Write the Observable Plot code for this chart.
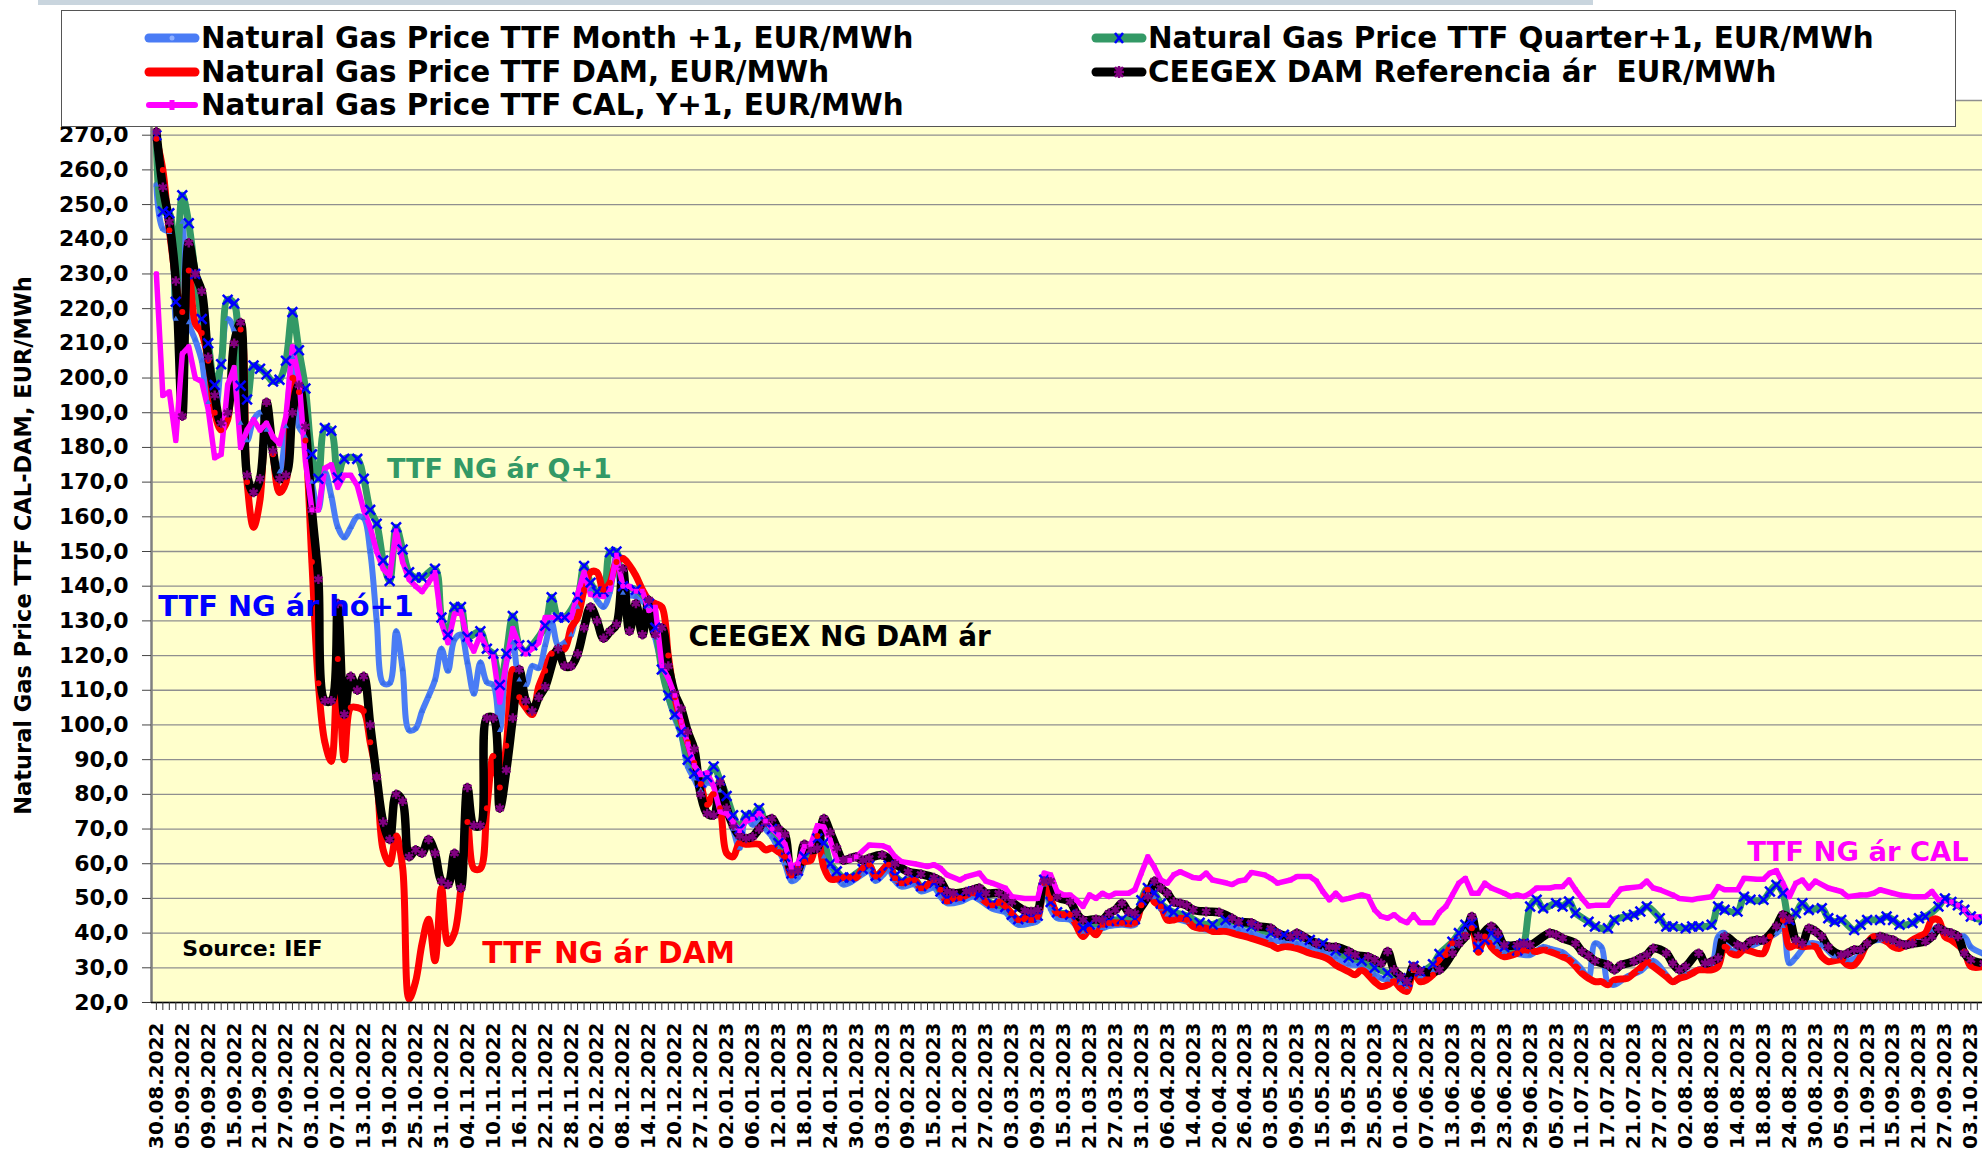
<!DOCTYPE html>
<html><head><meta charset="utf-8">
<script src="https://cdn.jsdelivr.net/npm/d3@7"></script>
<script src="https://cdn.jsdelivr.net/npm/@observablehq/plot@0.6"></script>
<style>
html,body{margin:0;padding:0;background:#fff;overflow:hidden;}
#wrap{position:relative;width:1982px;height:1153px;overflow:hidden;font-family:"DejaVu Sans",sans-serif;}
#chart svg{display:block;}
#chart svg text{font-weight:bold;}
.strip{position:absolute;left:38px;top:0;width:1555px;height:5px;background:#c9d5de;}
#legend{position:absolute;left:61px;top:10px;width:1895px;height:117px;background:#fff;border:1.5px solid #555;box-sizing:border-box;}
.item{position:absolute;display:flex;align-items:center;height:34px;font-weight:bold;font-size:29.4px;color:#000;white-space:nowrap;}
.item svg{margin-right:1px;}
</style></head><body>
<div id="wrap"><div id="chart"></div><div class="strip"></div><div id="legend"></div></div>
<script>
// category labels (every 4th trading day)
const labels = ["30.08.2022","05.09.2022","09.09.2022","15.09.2022","21.09.2022","27.09.2022","03.10.2022","07.10.2022","13.10.2022","19.10.2022","25.10.2022","31.10.2022","04.11.2022","10.11.2022","16.11.2022","22.11.2022","28.11.2022","02.12.2022","08.12.2022","14.12.2022","20.12.2022","27.12.2022","02.01.2023","06.01.2023","12.01.2023","18.01.2023","24.01.2023","30.01.2023","03.02.2023","09.02.2023","15.02.2023","21.02.2023","27.02.2023","03.03.2023","09.03.2023","15.03.2023","21.03.2023","27.03.2023","31.03.2023","06.04.2023","14.04.2023","20.04.2023","26.04.2023","03.05.2023","09.05.2023","15.05.2023","19.05.2023","25.05.2023","01.06.2023","07.06.2023","13.06.2023","19.06.2023","23.06.2023","29.06.2023","05.07.2023","11.07.2023","17.07.2023","21.07.2023","27.07.2023","02.08.2023","08.08.2023","14.08.2023","18.08.2023","24.08.2023","30.08.2023","05.09.2023","11.09.2023","15.09.2023","21.09.2023","27.09.2023","03.10.2023"];

// [trading day index, EUR/MWh]
const monthAhead = [[0,255.7],[1,243],[2,242],[3,217],[4,245],[5,216],[6,211],[7,205],[8,193],[9,190],[10,205],[11,217],[12,214],[13,187],[14,182],[15,188],[16,190],[17,185],[18,178],[19,173],[20,186],[21,206],[22,186],[23,183],[24,170],[25,162],[26,173],[27,166],[28,157],[29,154],[30,157],[31,160],[32,159.6],[33,150],[34,130],[35,112],[36,112],[37,127],[38,116],[39,98.5],[40,99],[41,104],[42,108.3],[43,113],[44,122],[45,115.6],[46,124.6],[47,126],[48,118],[49,109],[50,118],[51,112.3],[52,111.5],[53,98.5],[54,118],[55,123.7],[56,113],[57,111.5],[58,117],[59,116.4],[60,123],[61,129.5],[62,123],[63,123.7],[64,126],[65,134],[66,139],[67,139],[68,136],[69,134],[70,138.4],[71,149],[72,138],[74,137],[76,133.5],[77,125],[78,117],[79,108],[80,102],[81,97],[82,88],[83,84.5],[84,81.2],[85,83.4],[87,81],[88,76],[89,70],[90,64.5],[91,74],[92,71.2],[93,73],[94,70],[95,67.8],[96,64],[97,60],[98,55],[99,56],[100,60.6],[102,67.3],[103,62],[104,59],[105,56],[106,54],[107,54.5],[109,57],[110,58],[111,55],[113,58],[114,55],[115,53.4],[117,54],[118,52],[120,53],[121,50.5],[122,48.6],[124,49],[126,50.5],[127,49.6],[129,47],[131,46],[132,43.8],[133,42.4],[135,42.9],[136,43.5],[137,53.9],[138,47],[139,44.3],[141,43.8],[143,40],[144,41],[146,41.4],[147,42],[149,42.4],[151,42.4],[152,48],[153,51.5],[154,50.1],[155,47],[156,45.3],[157,44.3],[159,43.3],[161,41.4],[163,40.9],[165,42],[167,41],[169,40],[172,38],[174,37.5],[176,37],[178,36],[180,35],[182,33],[184,31],[186,30.5],[188,28],[189,27],[190,26.5],[192,25.5],[193,24],[194,29],[195,27.5],[197,29],[198,33],[200,36],[201,38.5],[202,40.5],[203,42],[204,37],[205,38],[206,38.5],[207,36],[208,34.5],[210,34],[212,33.7],[214,36],[215,35.5],[217,34.5],[218,33],[219,31.5],[220,29.5],[221,27],[222,37],[223,36],[224,25.6],[225,25.1],[227,27.5],[229,29],[231,32],[233,28],[234,26],[236,28],[238,29.5],[240,31],[241,39],[242,40],[243,35],[245,35.5],[247,37],[248,38],[250,40],[251,42],[252,31.3],[253,33],[255,37],[257,36.5],[259,33.2],[261,32],[263,34],[264,37.1],[266,38],[268,37],[270,37],[272,38.5],[274,40.5],[275,42],[277,39],[279,39],[280,36],[282,34]];

const quarterAhead = [[0,270],[1,248],[2,247.5],[3,222],[4,252.7],[5,244.6],[6,230],[7,217],[8,210],[9,198],[10,204],[11,222.6],[12,221.5],[13,197.8],[14,193.8],[15,203.6],[16,202.7],[17,201],[18,199],[19,199.5],[20,205],[21,219],[22,208],[23,197],[24,178],[25,171],[26,185.6],[27,184.8],[28,171.3],[29,176.7],[31,176.7],[32,171],[33,162],[34,158],[35,147.4],[36,141.5],[37,157],[38,150.6],[39,144],[40,142.5],[41,142.5],[43,145],[44,131],[45,126],[46,134],[47,134],[48,125.4],[50,127],[51,122],[52,120.5],[53,111.5],[54,120.5],[55,131.4],[56,123],[57,121.3],[58,123],[60,128.6],[61,136.8],[62,131],[63,131],[65,136.8],[66,145.8],[67,141],[68,138.4],[69,138.4],[70,149.8],[71,150],[72,140],[74,139],[76,135],[77,128],[78,116],[79,108.5],[80,103],[81,98],[82,90],[83,86],[84,83.4],[85,85],[86,88],[87,84],[88,79.5],[89,74],[90,70],[91,74],[92,74],[93,76],[94,72],[95,70],[96,66],[97,62],[98,57.2],[99,58],[100,62],[102,67.3],[103,66],[104,60],[105,57.8],[106,56],[107,56],[109,58.5],[110,59.5],[111,56.5],[113,59.5],[114,56.5],[115,55],[117,55.5],[118,53.5],[120,54.5],[121,52],[122,50],[124,50.5],[126,52],[127,51],[129,48.5],[131,47.5],[132,45.3],[133,44],[135,44.5],[136,45],[137,55.4],[138,49],[139,46],[141,45.3],[143,41.5],[144,42.5],[146,43],[147,43.5],[149,44],[151,44],[152,49.5],[153,53],[154,51.6],[155,48.5],[156,47],[157,46],[159,45],[161,43],[163,42.5],[165,43.8],[167,43],[169,42],[172,40],[174,39.5],[176,39],[178,38],[180,37],[182,35],[184,33],[186,32],[188,30],[190,28.5],[192,27],[193,26],[194,30.5],[195,29],[197,31],[198,34],[200,37.5],[201,40],[202,42.4],[203,43],[204,36],[205,38],[206,40],[207,38],[208,36],[210,35],[211,37],[212,47.7],[213,49.6],[214,47.2],[216,48.6],[217,47.7],[218,49.1],[219,45.8],[221,43.3],[222,41.9],[224,41.4],[225,43.8],[227,44.8],[228,45.3],[229,46.2],[230,47.7],[232,44.3],[233,41.9],[234,41.9],[236,41.4],[237,41.9],[238,41.9],[240,42.4],[241,47.7],[242,46.7],[244,46.2],[245,50.5],[246,49.6],[248,49.6],[249,52],[250,53.9],[251,51.5],[252,43.8],[253,45.7],[254,48.6],[255,46.7],[257,47.2],[258,44.3],[259,43.3],[260,43.8],[262,40.9],[263,42.4],[264,43.8],[266,43.8],[267,44.8],[268,43.8],[269,42.4],[271,42.9],[272,44.3],[273,44.8],[275,47.7],[276,50],[277,49],[278,48],[279,46.7],[280,44.8],[282,43.8]];

const dayAhead = [[0,269],[1,260],[2,242.6],[4,219],[5,231],[6,215.8],[7,213],[8,205],[9,190],[10,185],[11,188],[12,210],[13,214],[14,170],[15,157],[16,165],[17,193],[18,178],[19,167],[20,170],[21,200],[22,196],[23,182],[24,147],[25,112],[26,95],[27,89.5],[28,119],[29,90],[30,105],[31,105],[32,104],[33,95],[34,85],[35,64],[36,60],[37,68],[38,59],[39,21],[40,26],[41,37],[42,44],[43,32],[44,53],[45,37],[46,40],[47,53],[48,72],[49,58.6],[50,58.6],[51,76],[52,91],[53,82],[54,94],[55,116],[56,108],[57,105],[58,103],[59,111],[60,115.6],[61,120.5],[63,122],[64,128],[65,131],[66,139],[67,144],[68,144],[69,139],[70,141],[71,147],[72,148],[73,146],[74,143],[75,139],[76,136],[77,135],[78,134],[79,120],[80,108],[81,101],[82,95],[83,89],[84,83],[85,77],[86,80],[87,76],[88,63],[89,62],[90,66],[91,65.6],[93,65.6],[94,64],[95,64.5],[96,63.4],[97,62],[98,56.7],[99,59.4],[100,60.6],[101,61],[102,68],[103,59],[104,55.6],[105,55.6],[106,56],[107,56],[108,56],[109,58.7],[110,59.7],[111,56.3],[113,59.7],[114,55.8],[115,54.4],[117,55.3],[118,52.9],[119,53.9],[120,55.3],[121,52.5],[122,49.1],[123,50.1],[124,50.1],[126,51.5],[128,49],[129,48],[130,49],[131,47.7],[132,45.7],[133,43.8],[134,44.3],[135,43.8],[136,44.7],[137,54.4],[138,50],[139,45.7],[140,45.3],[141,45.3],[143,39],[144,41],[145,39.5],[146,42.4],[147,42.9],[149,42.9],[151,42.9],[152,48],[153,52.5],[154,49],[155,47.7],[156,43.8],[157,43.8],[158,44.3],[159,43.8],[160,41.9],[161,41.4],[162,41.4],[163,40.5],[165,40.5],[167,39.5],[169,38.5],[172,36.6],[173,35.6],[174,36.1],[176,35.6],[178,34.2],[180,33.2],[181,32.3],[182,30.8],[184,28.9],[185,28],[186,29.4],[188,26],[189,24.6],[190,25.1],[191,26],[192,24.1],[193,23.2],[194,29.4],[195,26],[197,28],[198,32.3],[199,33.7],[200,37.1],[202,39.5],[203,41.4],[204,34.5],[205,39],[206,36],[207,34.2],[208,33.2],[210,34.2],[211,35.2],[213,34.7],[214,35.2],[215,34.7],[217,33.2],[218,32.3],[219,30.4],[220,28.4],[221,27],[222,26],[223,26],[224,25.1],[225,26.5],[227,27],[228,28.4],[229,29.9],[230,31.8],[231,30.4],[233,27.5],[234,26],[235,27],[236,27.5],[237,28.4],[238,29.4],[240,29.4],[241,30.4],[242,36.1],[243,34.2],[244,33.7],[245,35.2],[247,34.2],[248,34.2],[249,39],[250,41.9],[251,43.8],[252,36],[253,36.6],[254,36.1],[256,36.1],[257,33.2],[258,31.8],[260,32.3],[261,30.8],[262,30.8],[263,33.2],[264,37.1],[265,39],[267,37.6],[268,36.1],[269,35.6],[271,38],[272,39],[273,40],[274,43.8],[275,43.8],[276,39],[277,38],[279,34.7],[280,30.4],[282,30.4]];

const ceegex = [[0,271],[1,255],[2,245],[3,228],[4,189],[5,239],[6,230],[7,225],[8,206],[9,195],[10,187],[11,190],[12,210],[13,216],[14,172],[15,167],[16,171],[17,193],[18,179],[19,171],[20,172],[21,190],[22,198],[23,186],[24,162],[25,142],[26,107],[27,107],[28,135],[29,103],[30,114],[31,110],[32,114],[33,100],[34,85],[35,72],[36,67],[37,80],[38,78],[39,62],[40,64],[41,63],[42,67],[43,63],[44,55],[45,54],[46,63],[47,53],[48,82],[49,71],[50,71],[51,102],[52,102],[53,76],[54,87],[55,102],[56,116],[57,107],[58,104],[59,108],[60,111],[62,122],[63,117],[64,117],[65,120.5],[66,128],[67,134],[68,130],[69,125],[70,127],[71,129],[72,145],[73,127],[74,135],[75,126],[76,136],[77,126],[78,128],[79,117],[80,109],[81,104.6],[82,98],[83,93],[84,80],[85,74.5],[86,74],[87,83.4],[88,76],[89,71],[90,68],[91,67.3],[92,67.8],[93,70],[94,72],[95,73],[96,70],[97,68.4],[98,58],[99,58],[100,65.6],[101,64],[102,64.5],[103,73],[104,69],[105,64.5],[106,61],[107,61.5],[108,62],[109,61],[110,61.6],[112,62.5],[114,60],[116,57.7],[118,57],[120,56],[121,55],[122,52],[123,51.5],[125,52],[126,52.5],[127,53],[128,51.5],[130,51.5],[131,50.5],[132,49],[134,46.5],[135,46.2],[136,46.7],[137,55],[138,55],[139,50.5],[141,49],[142,45.7],[143,43.8],[145,44],[146,43.8],[147,45.7],[148,46.7],[149,48.6],[150,46.2],[151,45.7],[153,50.5],[154,55],[155,53],[156,51.5],[157,49],[158,48.6],[159,48],[160,46.7],[162,46.2],[164,46],[166,44.3],[167,43.3],[169,43],[170,42],[172,41.4],[173,40],[175,39],[176,40],[177,39],[179,37],[181,36],[182,36],[184,34.7],[185,33.7],[187,33.2],[188,32.3],[189,31.3],[190,34.7],[191,29.4],[192,27.5],[193,26],[194,30.4],[195,29],[198,29.4],[200,34.2],[201,37],[202,39],[203,44.8],[204,39],[206,42],[207,40],[208,36.6],[210,36.6],[211,37],[212,36.6],[215,40],[216,39.5],[217,38.5],[219,37],[220,34.7],[221,33.5],[222,32],[224,30.8],[225,29.4],[226,30.8],[228,31.8],[229,32.8],[230,33.7],[231,35.6],[233,34.2],[234,31.3],[235,29.4],[236,30.4],[238,34.2],[239,31.3],[240,31.8],[241,32.8],[242,39],[244,36.6],[245,36.1],[246,37.6],[247,38],[248,38],[250,42],[251,45.3],[252,44],[253,38],[254,37],[255,41.4],[256,40.5],[257,39],[258,36],[260,33.7],[261,34.2],[262,35.2],[263,35.2],[264,37],[266,39],[267,38.5],[268,38],[269,37],[270,36.6],[271,37],[273,37.6],[274,39],[275,41.4],[276,40.5],[277,40],[278,39],[279,34.2],[280,32.3],[282,31.3]];

const calYear = [[0,230],[1,195],[2,196],[3,182],[4,207],[5,209],[6,200],[7,199],[8,191],[9,177],[10,178],[11,198],[12,203],[13,180],[14,185],[15,188],[16,185],[17,187],[18,183],[19,181],[20,189],[21,209],[22,200],[23,176],[24,162],[25,162],[26,174],[27,175],[28,168.5],[29,172],[30,172],[31,169],[32,162],[33,157],[34,150],[35,145],[36,143],[37,156],[38,147],[39,142],[40,140],[41,138.4],[42,141],[43,144],[44,129.5],[45,123.7],[46,132],[47,132.7],[48,124.6],[49,121.3],[50,126],[51,122],[52,119.7],[53,106.6],[54,118],[55,127.8],[56,123],[57,120.5],[58,122],[59,123.7],[60,131],[61,131],[64,131],[65,137.6],[66,144],[67,137.6],[69,137],[70,139],[71,149],[72,140],[73,140],[74,138.6],[75,138.6],[76,133],[77,134],[78,117],[79,113.5],[80,108.5],[81,101],[82,94.6],[83,88.4],[84,85.7],[85,86.2],[86,82.3],[87,75],[88,74.5],[89,72],[90,69.5],[91,72.3],[92,72.9],[93,74.5],[94,72.3],[95,70],[96,68.4],[97,65.6],[98,59],[99,60],[100,65],[101,65.6],[102,71],[103,70.6],[104,66.7],[105,61],[107,61],[108,62],[110,65.4],[112,65.2],[113,64.5],[114,62],[115,60.6],[117,60],[119,59.2],[120,59.7],[121,58.7],[122,56.8],[124,55.3],[125,56.3],[127,57.3],[128,55],[129,54.4],[131,53],[132,50.5],[134,50],[136,50],[137,57.3],[138,56.8],[139,52],[140,51],[141,51],[142,49.5],[143,47.7],[144,51],[145,50],[146,51.5],[147,50.5],[148,51.5],[150,51.5],[151,52.5],[152,57.3],[153,62],[154,59],[155,55.3],[156,54.4],[157,56.8],[158,57.7],[160,56],[161,55.8],[162,57.3],[163,55.3],[165,54.5],[166,54],[167,55],[168,55.3],[169,57.5],[171,56.8],[172,55.8],[173,54.4],[175,55.3],[176,56.3],[178,56.3],[179,55],[180,52],[181,49.6],[182,51.5],[183,49.6],[184,50],[186,51],[187,50.5],[188,46.7],[189,44.8],[190,44.3],[191,45.3],[192,43.8],[193,43],[194,45.3],[195,43],[197,43],[198,46],[199,47.7],[200,51],[201,54.4],[202,55.8],[203,51.5],[204,51.5],[205,54.4],[206,53],[208,51.5],[209,50.5],[210,51],[211,50.5],[212,51.5],[213,53],[215,53],[216,53.4],[217,53.4],[218,55.3],[219,52.5],[220,50],[221,47.8],[222,48],[224,48],[225,50.5],[226,52.7],[227,53],[229,53.4],[230,55],[231,53],[232,52.5],[234,51],[235,50],[237,49.6],[238,50],[240,50.5],[241,53.4],[242,52.5],[244,52.5],[245,55.8],[247,55.5],[248,55.5],[249,57.3],[250,58],[251,54.4],[252,50.5],[253,54.4],[254,55.3],[255,53],[256,55],[258,53],[259,52.5],[260,52],[261,50.5],[263,51],[264,51],[265,51.5],[266,52.5],[268,51.5],[269,51],[271,50.5],[272,50.5],[273,50.5],[274,52],[275,49.6],[277,49],[278,48],[279,46.7],[280,44.5],[282,44.8]];

const yTicks = d3.range(20, 271, 10);
const notes = [
  {d: 35.6, v: 173.6, text: "TTF NG ár Q+1", color: "#339966", size: 27},
  {d: 0.3, v: 134.1, text: "TTF NG ár hó+1", color: "#0000ff", size: 28.8},
  {d: 82.1, v: 125.2, text: "CEEGEX NG DAM ár", color: "#000000", size: 27.9},
  {d: 50.3, v: 34, text: "TTF NG ár DAM", color: "#ff0000", size: 29.6},
  {d: 245.5, v: 63.3, text: "TTF NG ár CAL", color: "#ff00ff", size: 27.4},
  {d: 4, v: 35.3, text: "Source: IEF", color: "#000000", size: 22}
];

const rows = a => a.map(([d, v]) => ({d, v}));
const fmt = v => v.toFixed(1).replace(".", ",");

const chart = Plot.plot({
  width: 1982, height: 1153,
  marginLeft: 151, marginRight: 0, marginTop: 100, marginBottom: 151,
  style: {fontFamily: "DejaVu Sans, sans-serif", fontWeight: "bold", background: "transparent"},
  x: {type: "linear", domain: [-0.75, 281.8]},
  y: {domain: [20, 280]},
  marks: [
    Plot.frame({fill: "#ffffcc", stroke: null}),
    Plot.ruleY(d3.range(20, 281, 10), {stroke: "#8f8f8f", strokeWidth: 1.3}),
    Plot.line(rows(monthAhead), {x: "d", y: "v", stroke: "#4a7cf5", strokeWidth: 6, curve: "catmull-rom"}),
    Plot.line(rows(quarterAhead), {x: "d", y: "v", stroke: "#339966", strokeWidth: 7, curve: "catmull-rom"}),
    Plot.line(rows(dayAhead), {x: "d", y: "v", stroke: "#ff0000", strokeWidth: 7, curve: "catmull-rom"}),
    Plot.line(rows(ceegex), {x: "d", y: "v", stroke: "#000000", strokeWidth: 8.5, curve: "catmull-rom"}),
    Plot.line(rows(calYear), {x: "d", y: "v", stroke: "#ff00ff", strokeWidth: 5.5}),
    Plot.dot(rows(monthAhead), {x: "d", y: "v", symbol: "triangle", r: 2.2, fill: "#3a6fe8"}),
    Plot.dot(rows(quarterAhead), {x: "d", y: "v", symbol: "times", r: 4.5, stroke: "#0000ff", strokeWidth: 2.5}),
    Plot.dot(rows(dayAhead), {x: "d", y: "v", r: 3, fill: "#ff0000"}),
    Plot.dot(rows(ceegex), {x: "d", y: "v", symbol: "asterisk", r: 4.5, stroke: "#800080", strokeWidth: 2.5}),
    Plot.dot(rows(calYear), {x: "d", y: "v", symbol: "square", r: 2.6, fill: "#ff00ff"}),
    Plot.ruleX([-0.75], {stroke: "#808080", strokeWidth: 2.5}),
    Plot.ruleY([20], {stroke: "#000000", strokeWidth: 1.5}),
    Plot.axisY({ticks: yTicks, tickFormat: fmt, tickSize: 9, tickPadding: 14, fontSize: 22, fontWeight: "bold", stroke: "#444", label: null}),
    Plot.axisX({ticks: d3.range(0, 283), tickSize: 8, tickFormat: () => "", stroke: "#333", label: null}),
    Plot.axisX({ticks: d3.range(0, 281, 4), tickSize: 0, tickPadding: 20, tickRotate: -90, tickFormat: d => labels[d / 4], fontSize: 20, fontWeight: "bold", label: null}),
    Plot.text(["Natural Gas Price TTF CAL-DAM, EUR/MWh"], {frameAnchor: "left", textAnchor: "middle", rotate: -90, dx: -128, dy: -6, fontSize: 22.5, fontWeight: "bold", fill: "#000"}),
    ...notes.map(n => Plot.text([n], {x: "d", y: "v", text: "text", fill: n.color, fontSize: n.size, fontWeight: "bold", textAnchor: "start", lineAnchor: "middle"}))
  ]
});
document.getElementById("chart").appendChild(chart);

// legend
const legendItems = [
  {name: "Natural Gas Price TTF Month +1, EUR/MWh", color: "#4a7cf5", marker: "dot", mcolor: "#8fb0ff", left: 82, top: 10},
  {name: "Natural Gas Price TTF DAM, EUR/MWh", color: "#ff0000", marker: "none", mcolor: "#ff0000", left: 82, top: 44},
  {name: "Natural Gas Price TTF CAL, Y+1, EUR/MWh", color: "#ff00ff", marker: "square", mcolor: "#ff00ff", left: 82, top: 77},
  {name: "Natural Gas Price TTF Quarter+1, EUR/MWh", color: "#339966", marker: "x", mcolor: "#0000ff", left: 1029, top: 10},
  {name: "CEEGEX DAM Referencia ár  EUR/MWh", color: "#000000", marker: "star", mcolor: "#800080", left: 1029, top: 44}
];
const legend = document.getElementById("legend");
for (const it of legendItems) {
  const div = document.createElement("div");
  div.className = "item";
  div.style.left = it.left + "px";
  div.style.top = it.top + "px";
  let m = "";
  if (it.marker === "dot") m = `<circle cx="28" cy="10" r="2.5" fill="${it.mcolor}"/>`;
  if (it.marker === "square") m = `<rect x="25.5" y="5" width="5" height="10" fill="${it.mcolor}"/>`;
  if (it.marker === "x") m = `<path d="M24 5L32 15M32 5L24 15" stroke="${it.mcolor}" stroke-width="2.5"/>`;
  if (it.marker === "star") m = `<path d="M24 5L32 15M32 5L24 15M28 4L28 16M23 10L33 10" stroke="${it.mcolor}" stroke-width="2.5"/>`;
  const sw = it.marker === "square" ? 6 : 9;
  div.innerHTML = `<svg width="56" height="20"><line x1="5" y1="10" x2="51" y2="10" stroke="${it.color}" stroke-width="${sw}" stroke-linecap="round"/>${m}</svg><span>${it.name.replace(/  /g, "&nbsp; ")}</span>`;
  legend.appendChild(div);
}
</script>
</body></html>
